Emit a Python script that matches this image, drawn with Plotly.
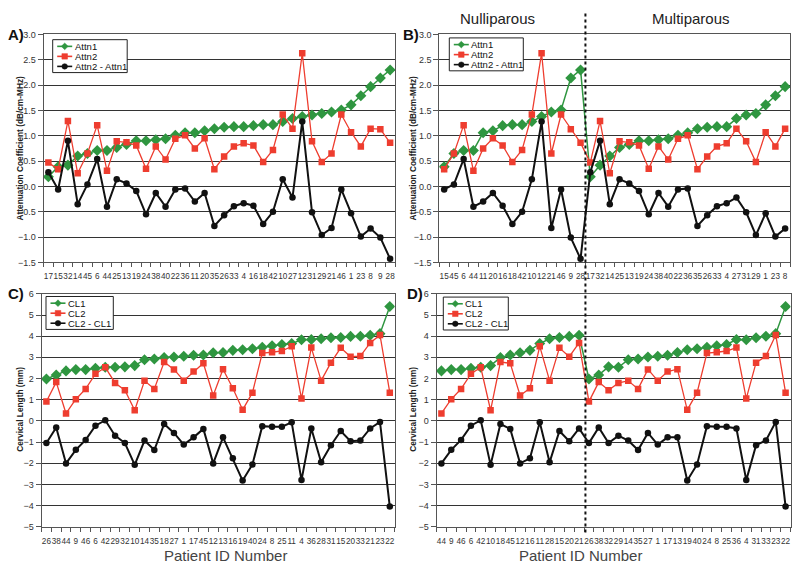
import plotly.graph_objects as go

# ---------------- data ----------------
# Panel A order (sorted by Attn1)
ids_a = [17, 15, 32, 14, 45, 6, 44, 25, 13, 19, 24, 38, 40, 22, 36, 11, 20, 35,
         26, 33, 4, 16, 18, 42, 10, 27, 12, 31, 29, 21, 46, 1, 23, 8, 9, 28]
attn1_a = [0.19, 0.39, 0.42, 0.60, 0.65, 0.71, 0.71, 0.77, 0.83, 0.90, 0.90, 0.92,
           0.94, 1.01, 1.06, 1.06, 1.10, 1.14, 1.17, 1.18, 1.18, 1.20, 1.22, 1.22,
           1.28, 1.34, 1.38, 1.41, 1.44, 1.47, 1.51, 1.61, 1.79, 1.97, 2.14, 2.30]
attn2_a = [0.47, 0.34, 1.29, 0.26, 0.65, 1.21, 0.31, 0.89, 0.87, 0.81, 0.35, 0.79,
           0.53, 0.94, 1.01, 0.75, 0.95, 0.34, 0.59, 0.79, 0.85, 0.81, 0.48, 0.72,
           1.42, 1.14, 2.63, 0.89, 0.48, 0.65, 1.42, 1.07, 0.79, 1.14, 1.13, 0.86]
attn_diff_a = [0.28, -0.06, 0.90, -0.35, 0.04, 0.54, -0.40, 0.14, 0.06, -0.09, -0.55, -0.13,
               -0.40, -0.06, -0.04, -0.30, -0.13, -0.78, -0.57, -0.39, -0.33, -0.38, -0.74, -0.50,
               0.14, -0.22, 1.28, -0.51, -0.96, -0.82, -0.06, -0.53, -0.99, -0.83, -1.01, -1.43]

# Panel C order (sorted by CL1)
ids_c = [26, 38, 44, 9, 46, 6, 42, 29, 32, 10, 14, 35, 18, 27, 1, 17, 45, 12,
         13, 16, 19, 40, 24, 8, 25, 11, 4, 36, 28, 31, 15, 20, 33, 21, 23, 22]
cl1_c = [1.98, 2.17, 2.36, 2.42, 2.42, 2.48, 2.53, 2.53, 2.55, 2.61, 2.89, 2.92,
         2.99, 3.02, 3.05, 3.10, 3.11, 3.22, 3.23, 3.33, 3.36, 3.41, 3.48, 3.55,
         3.61, 3.65, 3.83, 3.84, 3.88, 3.93, 3.94, 3.99, 4.00, 4.04, 4.12, 5.40]
cl2_c = [0.91, 1.83, 0.35, 1.02, 1.51, 2.22, 2.53, 1.79, 1.45, 0.50, 1.89, 1.51,
         2.78, 2.43, 1.90, 2.33, 2.72, 1.20, 2.44, 1.54, 0.52, 1.33, 3.20, 3.24,
         3.30, 3.52, 1.05, 3.46, 1.90, 2.75, 3.45, 3.03, 3.06, 3.68, 4.06, 1.33]
cl_diff_c = [-1.05, -0.31, -2.01, -1.37, -0.90, -0.23, 0.03, -0.70, -1.05, -2.08, -0.93, -1.38,
             -0.15, -0.57, -1.12, -0.78, -0.38, -2.01, -0.78, -1.77, -2.82, -2.06, -0.25, -0.28,
             -0.28, -0.07, -2.80, -0.36, -1.96, -1.15, -0.48, -0.96, -0.93, -0.36, -0.05, -4.05]

# Parity groups (order within each panel)
nulli_b = [15, 45, 6, 44, 11, 20, 16, 18, 42, 10, 12, 21, 46, 9, 28]
multi_b = [17, 32, 14, 25, 13, 19, 24, 38, 40, 22, 36, 35, 26, 33, 4, 27, 31, 29, 1, 23, 8]
nulli_d = [44, 9, 46, 6, 42, 10, 18, 45, 12, 16, 11, 28, 15, 20, 21]
multi_d = [26, 38, 32, 29, 14, 35, 27, 1, 17, 13, 19, 40, 24, 8, 25, 36, 4, 31, 33, 23, 22]

attn1 = dict(zip(ids_a, attn1_a))
attn2 = dict(zip(ids_a, attn2_a))
attnd = dict(zip(ids_a, attn_diff_a))
cl1 = dict(zip(ids_c, cl1_c))
cl2 = dict(zip(ids_c, cl2_c))
cld = dict(zip(ids_c, cl_diff_c))

ids_b = nulli_b + multi_b
ids_d = nulli_d + multi_d

panels = {
    "A": dict(ids=ids_a, s=[[attn1[i] for i in ids_a], [attn2[i] for i in ids_a], [attnd[i] for i in ids_a]],
              names=["Attn1", "Attn2", "Attn2 - Attn1"]),
    "B": dict(ids=ids_b, s=[[attn1[i] for i in ids_b], [attn2[i] for i in ids_b], [attnd[i] for i in ids_b]],
              names=["Attn1", "Attn2", "Attn2 - Attn1"]),
    "C": dict(ids=ids_c, s=[[cl1[i] for i in ids_c], [cl2[i] for i in ids_c], [cld[i] for i in ids_c]],
              names=["CL1", "CL2", "CL2 - CL1"]),
    "D": dict(ids=ids_d, s=[[cl1[i] for i in ids_d], [cl2[i] for i in ids_d], [cld[i] for i in ids_d]],
              names=["CL1", "CL2", "CL2 - CL1"]),
}

# ---------------- layout geometry (pixels) ----------------
W, H = 800, 570
geom = {
    "A": dict(x=(43.5, 395.0), y=(30, 262), ax="x", ay="y", leg=(52.7, 35.3, 74.5)),
    "B": dict(x=(439.3, 790.0), y=(30, 262), ax="x2", ay="y2", leg=(449.3, 33.5, 74.0)),
    "C": dict(x=(41.5, 394.7), y=(294, 531), ax="x3", ay="y3", leg=(46.0, 296.7, 67.3)),
    "D": dict(x=(436.5, 790.5), y=(294, 531), ax="x4", ay="y4", leg=(443.3, 297.3, 65.0)),
}

GREEN = "#2f9640"
RED = "#ee3d2f"
BLACK = "#111111"
FONT = "Arial, Liberation Sans, sans-serif"

fig = go.Figure()
styles = [
    dict(color=GREEN, symbol="diamond", size=8.5, lw=1.5),
    dict(color=RED, symbol="square", size=6.5, lw=1.3),
    dict(color=BLACK, symbol="circle", size=6.5, lw=2.0),
]

for key, p in panels.items():
    g = geom[key]
    xs = list(range(len(p["ids"])))
    for vals, name, st in zip(p["s"], p["names"], styles):
        fig.add_trace(go.Scatter(
            x=xs, y=vals, name=name, mode="lines+markers",
            line=dict(color=st["color"], width=st["lw"]),
            marker=dict(symbol=st["symbol"], size=st["size"], color=st["color"]),
            xaxis=g["ax"], yaxis=g["ay"], showlegend=False,
        ))

layout = dict(width=W, height=H, margin=dict(l=0, r=0, t=0, b=0),
              paper_bgcolor="white", plot_bgcolor="white",
              font=dict(family=FONT, color="#222"), showlegend=False)

for key, g in geom.items():
    n = len(panels[key]["ids"])
    xname = "xaxis" if g["ax"] == "x" else "xaxis" + g["ax"][1:]
    yname = "yaxis" if g["ay"] == "y" else "yaxis" + g["ay"][1:]
    is_attn = key in ("A", "B")
    layout[xname] = dict(
        domain=[g["x"][0] / W, g["x"][1] / W], anchor=g["ay"],
        range=[-0.5, n - 0.5], tickmode="array", tickvals=list(range(n)),
        ticktext=[str(i) for i in panels[key]["ids"]], tickangle=0,
        tickfont=dict(size=8.2, color="#333"), showgrid=False, zeroline=False,
        ticks="outside", ticklen=6, tickcolor="rgba(0,0,0,0)",
        showline=True, linecolor="#555", linewidth=1, mirror=True,
        minor=dict(tickmode="array", tickvals=[k - 0.5 for k in range(n + 1)],
                   ticks="outside", ticklen=4, tickcolor="#555", showgrid=False),
    )
    layout[yname] = dict(
        domain=[1 - g["y"][1] / H, 1 - g["y"][0] / H], anchor=g["ax"],
        range=[-1.5, 3.0] if is_attn else [-5, 6], dtick=0.5 if is_attn else 1,
        tick0=0, tickformat=".1f" if is_attn else "d",
        tickfont=dict(size=9, color="#333"), showgrid=True, gridcolor="#333333",
        gridwidth=1, zeroline=False, ticks="outside", ticklen=5, tickcolor="#555",
        showline=True, linecolor="#555", linewidth=1, mirror=True,
    )

fig.update_layout(**layout)


def px(x, y):
    return x / W, 1 - y / H


ann = []
shapes = []
# panel letters
for txt, x, y in [("A)", 6, 30), ("B)", 401, 30), ("C)", 6, 294), ("D)", 405, 294)]:
    xx, yy = px(x, y)
    ann.append(dict(text="<b>" + txt + "</b>", x=xx, y=yy, xref="paper", yref="paper",
                    xanchor="left", yanchor="middle", showarrow=False,
                    font=dict(size=15, color="#111")))
# y titles
for txt, x, y in [("Attenuation Coefficient (dB/cm-MHz)", 20, 146),
                  ("Attenuation Coefficient (dB/cm-MHz)", 413, 146),
                  ("Cervical Length (mm)", 20, 412),
                  ("Cervical Length (mm)", 413, 412)]:
    xx, yy = px(x, y)
    ann.append(dict(text="<b>" + txt + "</b>", x=xx, y=yy, xref="paper", yref="paper",
                    xanchor="center", yanchor="middle",
                    textangle=-90, showarrow=False, font=dict(size=8.3, color="#222")))
# group titles
for txt, x in [("Nulliparous", 497), ("Multiparous", 691)]:
    xx, yy = px(x, 14)
    ann.append(dict(text=txt, x=xx, y=yy, xref="paper", yref="paper",
                    xanchor="center", yanchor="middle",
                    showarrow=False, font=dict(size=15, color="#222")))
# x titles
for x in (226, 580):
    xx, yy = px(x, 560)
    ann.append(dict(text="Patient ID Number", x=xx, y=yy, xref="paper", yref="paper",
                    xanchor="center", yanchor="middle",
                    showarrow=False, font=dict(size=15, color="#444")))

# legends (drawn per panel, compact as in the reference)
for key, g in geom.items():
    L, T, Wd = g["leg"]
    x0, y0 = px(L, T)
    x1, y1 = px(L + Wd, T + 33.5)
    shapes.append(dict(type="rect", xref="paper", yref="paper", x0=x0, x1=x1, y0=y1, y1=y0,
                       line=dict(color="#222", width=1), fillcolor="white", layer="above"))
    for k, (name, st) in enumerate(zip(panels[key]["names"], styles)):
        ry = T + 6.8 + 10.2 * k
        lx0, ly = px(L + 4.5, ry)
        lx1, _ = px(L + 19.5, ry)
        shapes.append(dict(type="line", xref="paper", yref="paper", x0=lx0, x1=lx1, y0=ly, y1=ly,
                           line=dict(color=st["color"], width=1.6), layer="above"))
        cx = L + 12
        r = 2.8
        if st["symbol"] == "diamond":
            pts = [(cx, ry - r - 0.6), (cx + r + 0.6, ry), (cx, ry + r + 0.6), (cx - r - 0.6, ry)]
            path = "M " + " L ".join(f"{px(a, b)[0]:.5f},{px(a, b)[1]:.5f}" for a, b in pts) + " Z"
            shapes.append(dict(type="path", xref="paper", yref="paper", path=path,
                               fillcolor=st["color"], line=dict(color=st["color"], width=0.5),
                               layer="above"))
        else:
            sx0, sy0 = px(cx - r, ry - r)
            sx1, sy1 = px(cx + r, ry + r)
            shapes.append(dict(type="rect" if st["symbol"] == "square" else "circle",
                               xref="paper", yref="paper", x0=sx0, x1=sx1, y0=sy1, y1=sy0,
                               fillcolor=st["color"], line=dict(color=st["color"], width=0.5),
                               layer="above"))
        tx, ty = px(L + 20, ry)
        ann.append(dict(text=name, x=tx, y=ty, xref="paper", yref="paper",
                        xanchor="left", yanchor="middle", showarrow=False,
                        font=dict(size=9.5, color="#111")))

# divider between nulliparous and multiparous
_, dy0 = px(0, 537)
_, dy1 = px(0, 7)
shapes.append(dict(type="line", xref="x2", yref="paper", x0=len(nulli_b) - 0.5, x1=len(nulli_b) - 0.5,
                   y0=dy0, y1=dy1, line=dict(color="#111", width=2, dash="dot"), layer="above"))

fig.update_layout(annotations=ann, shapes=shapes)

fig.write_html("out.html", config={"displayModeBar": False},
               post_script="document.body.style.margin='0px';")
